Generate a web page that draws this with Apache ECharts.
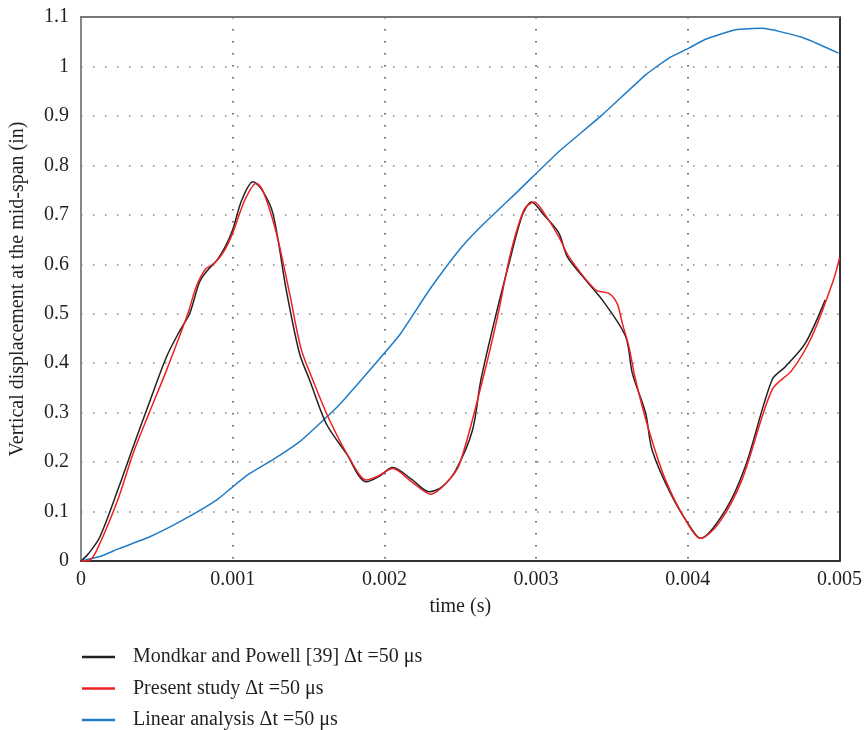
<!DOCTYPE html>
<html>
<head>
<meta charset="utf-8">
<script src="https://cdn.jsdelivr.net/npm/echarts@6/dist/echarts.min.js"></script>
<style>
  html, body { margin: 0; padding: 0; background: #fff; }
  #chart { width: 865px; height: 730px; }
</style>
</head>
<body>
<div id="chart"></div>
<script>
// Mid-span vertical displacement (in) against time (s)
const mondkarTime = [0, 0.00005, 0.000125, 0.00025, 0.000344, 0.00045, 0.000564, 0.00065, 0.000717, 0.000783, 0.00084, 0.0009, 0.00095, 0.001, 0.00106, 0.001134, 0.00119, 0.001265, 0.001353, 0.00144, 0.001507, 0.001616, 0.001748, 0.00188, 0.00196, 0.002055, 0.00218, 0.002296, 0.00238, 0.002471, 0.002581, 0.002636, 0.002737, 0.00282, 0.00291, 0.00297, 0.00305, 0.00315, 0.003206, 0.003327, 0.003436, 0.00359, 0.003634, 0.003722, 0.003765, 0.003897, 0.004029, 0.004083, 0.004248, 0.004379, 0.004555, 0.004643, 0.004774, 0.004906];
const mondkarDisp = [0, 0.015, 0.049, 0.15, 0.231, 0.32, 0.413, 0.465, 0.501, 0.565, 0.59, 0.61, 0.635, 0.67, 0.73, 0.767, 0.752, 0.703, 0.548, 0.42, 0.366, 0.278, 0.218, 0.16, 0.17, 0.189, 0.165, 0.14, 0.15, 0.184, 0.265, 0.366, 0.5, 0.6, 0.7, 0.726, 0.7, 0.663, 0.615, 0.568, 0.528, 0.454, 0.38, 0.299, 0.224, 0.13, 0.063, 0.046, 0.103, 0.191, 0.366, 0.393, 0.44, 0.528];

const presentTime = [0, 0.00006, 0.000125, 0.00025, 0.000344, 0.00045, 0.000564, 0.000704, 0.00076, 0.00082, 0.00088, 0.00094, 0.001, 0.00108, 0.001156, 0.0012, 0.001288, 0.001375, 0.00145, 0.001528, 0.001638, 0.00177, 0.00188, 0.00196, 0.002055, 0.00218, 0.002307, 0.0024, 0.002493, 0.002647, 0.00275, 0.00283, 0.00292, 0.002987, 0.00306, 0.003151, 0.003217, 0.003393, 0.00348, 0.003535, 0.003568, 0.003612, 0.003656, 0.003743, 0.003853, 0.003985, 0.004083, 0.004204, 0.004357, 0.004555, 0.004687, 0.004818, 0.00496, 0.005];
const presentDisp = [0, 0.002, 0.036, 0.13, 0.218, 0.3, 0.386, 0.5, 0.555, 0.59, 0.602, 0.625, 0.663, 0.73, 0.764, 0.748, 0.663, 0.541, 0.43, 0.366, 0.285, 0.208, 0.164, 0.172, 0.187, 0.16, 0.135, 0.155, 0.194, 0.366, 0.5, 0.62, 0.71, 0.726, 0.7, 0.655, 0.615, 0.548, 0.541, 0.52, 0.481, 0.433, 0.366, 0.265, 0.164, 0.083, 0.046, 0.076, 0.164, 0.346, 0.386, 0.454, 0.568, 0.613];

const linearTime = [0, 0.000125, 0.00025, 0.000454, 0.000673, 0.000893, 0.001, 0.001112, 0.001265, 0.00144, 0.001528, 0.0017, 0.001847, 0.0021, 0.002296, 0.002493, 0.002625, 0.002888, 0.003151, 0.003436, 0.003722, 0.003875, 0.004007, 0.004116, 0.004314, 0.004489, 0.004752, 0.004993];
const linearDisp = [0, 0.009, 0.025, 0.049, 0.083, 0.123, 0.15, 0.177, 0.205, 0.241, 0.265, 0.315, 0.366, 0.457, 0.548, 0.629, 0.673, 0.75, 0.828, 0.902, 0.983, 1.017, 1.037, 1.055, 1.074, 1.077, 1.059, 1.027];

const seriesNames = [
  'Mondkar and Powell [39] \u0394t =50 \u03bcs',
  'Present study \u0394t =50 \u03bcs',
  'Linear analysis \u0394t =50 \u03bcs'
];

const pairs = (xs, ys) => xs.map((x, i) => [x, ys[i]]);

const FONT = '"Liberation Serif", "DejaVu Serif", serif';
const TEXT = '#231f20';

const chart = echarts.init(document.getElementById('chart'), null, { renderer: 'canvas' });

chart.setOption({
  animation: false,
  backgroundColor: '#fff',
  textStyle: { fontFamily: FONT, color: TEXT },
  grid: { left: 81, right: 24, top: 17, bottom: 169, containLabel: false },
  legend: {
    orient: 'vertical',
    left: 82,
    top: 647,
    padding: 0,
    height: 90,
    itemWidth: 33,
    itemHeight: 14,
    itemGap: 11.5,
    icon: 'path://M0,0L1,0L1,0.08L0,0.08Z',
    textStyle: { fontFamily: FONT, fontSize: 20, color: TEXT, padding: [0, 0, 0, 13] },
    data: seriesNames
  },
  xAxis: [{
    type: 'value',
    min: 0, max: 0.005, interval: 0.001,
    name: 'time (s)',
    nameLocation: 'middle',
    nameGap: 36,
    nameTextStyle: { fontFamily: FONT, fontSize: 20, color: TEXT },
    axisLine: { show: true, onZero: false, lineStyle: { color: '#333', width: 2 } },
    axisTick: { show: false },
    axisLabel: {
      margin: 9, fontFamily: FONT, fontSize: 20, color: TEXT,
      formatter: v => v === 0 ? '0' : v.toFixed(3)
    },
    splitLine: { show: true, lineStyle: { color: '#444', width: 1.5, type: [1.5, 10.5] } }
  }, {
    type: 'value', position: 'top',
    min: 0, max: 0.005,
    axisLine: { show: true, onZero: false, lineStyle: { color: '#777', width: 2 } },
    axisTick: { show: false }, axisLabel: { show: false }, splitLine: { show: false }
  }],
  yAxis: [{
    type: 'value',
    min: 0, max: 1.1, interval: 0.1,
    name: 'Vertical displacement at the mid-span (in)',
    nameLocation: 'middle',
    nameGap: 53,
    nameTextStyle: { fontFamily: FONT, fontSize: 20, color: TEXT },
    axisLine: { show: true, onZero: false, lineStyle: { color: '#888', width: 2 } },
    axisTick: { show: false },
    axisLabel: {
      margin: 12, fontFamily: FONT, fontSize: 20, color: TEXT,
      formatter: v => String(Number(v.toFixed(1)))
    },
    splitLine: { show: true, lineStyle: { color: '#888', width: 1.5, type: [1.5, 10.5] } }
  }, {
    type: 'value', position: 'right',
    min: 0, max: 1.1,
    axisLine: { show: true, onZero: false, lineStyle: { color: '#333', width: 2 } },
    axisTick: { show: false }, axisLabel: { show: false }, splitLine: { show: false }
  }],
  series: [{
    name: seriesNames[0],
    type: 'line',
    data: pairs(mondkarTime, mondkarDisp),
    symbol: 'none',
    smooth: 0.3,
    lineStyle: { color: '#222', width: 1.5 },
    itemStyle: { color: '#222' },
    z: 3
  }, {
    name: seriesNames[1],
    type: 'line',
    data: pairs(presentTime, presentDisp),
    symbol: 'none',
    smooth: 0.3,
    lineStyle: { color: '#ee2024', width: 1.5 },
    itemStyle: { color: '#ee2024' },
    z: 4
  }, {
    name: seriesNames[2],
    type: 'line',
    data: pairs(linearTime, linearDisp),
    symbol: 'none',
    smooth: 0.15,
    lineStyle: { color: '#1f7cc8', width: 1.5 },
    itemStyle: { color: '#1f7cc8' },
    z: 2
  }]
});
</script>
</body>
</html>
